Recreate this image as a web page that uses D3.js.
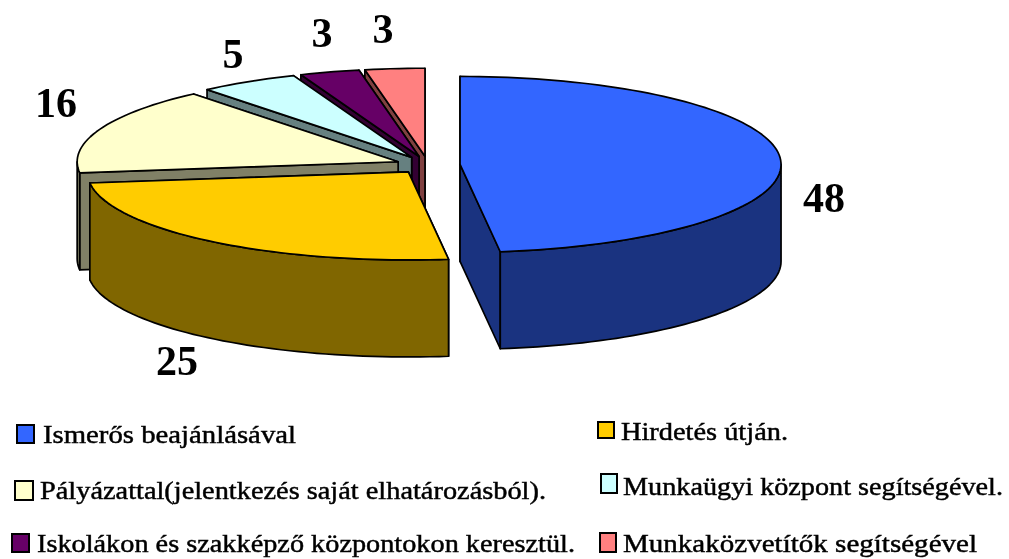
<!DOCTYPE html>
<html>
<head>
<meta charset="utf-8">
<script src="https://cdn.jsdelivr.net/npm/d3@7"></script>
<style>
	html, body { margin: 0; padding: 0; background: #ffffff; }
	svg { display: block; filter: blur(0.55px); }
	text { font-family: "Liberation Serif", serif; fill: #000000; }
</style>
</head>
<body>
<div id="chart"></div>
<script>
// chart data
var categories = [
	"Ismerős beajánlásával",
	"Hirdetés útján.",
	"Pályázattal(jelentkezés saját elhatározásból).",
	"Munkaügyi központ segítségével.",
	"Iskolákon és szakképző központokon keresztül.",
	"Munkaközvetítők segítségével"
];
var values = [48, 25, 16, 5, 3, 3];

// styles, one entry per slice
var topColors = ["#3366ff", "#ffcc00", "#ffffcc", "#ccffff", "#660066", "#ff8080"];
var wallColors = ["#1a3380", "#806600", "#808066", "#668080", "#330033", "#804040"];

// layout
var width = 1009, height = 559;
var cx = 428, cy = 165, rx = 321, ry = 88;
var depth = 97;
var explode = 0.1;
var labelSpots = [[824, 212], [177, 375], [56, 117], [233, 68], [322, 47], [383, 43]];
var legendSwatches = [[17, 425, 17, 18], [598, 422, 16, 16], [15, 481, 18, 19], [601, 474, 16, 19], [12, 534, 17, 18], [600, 533, 16, 19]];
var legendTexts = [[43, 443, 253], [621, 440, 167], [40, 499, 506], [623, 495, 380], [37, 552, 538], [623, 552, 354]];

var svg = d3.select("#chart").append("svg")
	.attr("width", width)
	.attr("height", height);

// unit circle -> screen ellipse
var x_scale = d3.scaleLinear().domain([-1, 1]).range([cx - rx, cx + rx]);
var y_scale = d3.scaleLinear().domain([-1, 1]).range([cy + ry, cy - ry]);

var slices = d3.pie().sort(null).value(function(d) { return d; })(values);

var line = d3.line()
	.x(function(d) { return d[0]; })
	.y(function(d) { return d[1]; });

// a point on the rim of a slice (or its apex if r = 0), moved out along the mid angle
function rimPoint(slice, angle, r, drop) {
	var mid = (slice.startAngle + slice.endAngle) / 2;
	return [
		x_scale(Math.sin(angle) * r + Math.sin(mid) * explode),
		y_scale(Math.cos(angle) * r + Math.cos(mid) * explode) + drop
	];
}

function arcAngles(a0, a1) {
	var steps = Math.max(2, Math.ceil((a1 - a0) / 0.03));
	return d3.range(steps + 1).map(function(i) { return a0 + (a1 - a0) * i / steps; });
}

function addShape(group, points, color) {
	group.append("path")
		.attr("d", line(points) + "Z")
		.attr("fill", color)
		.attr("stroke", "#000000")
		.attr("stroke-width", 1.7)
		.attr("stroke-linejoin", "round");
}

// draw back to front: last slice first
var pie_group = svg.append("g").attr("class", "pie");
slices.slice().reverse().forEach(function(s) {
	var g = pie_group.append("g");
	var wall = wallColors[s.index];

	// the cut face further back goes first, so it cannot cover the nearer one
	[s.startAngle, s.endAngle]
		.sort(function(a, b) { return Math.cos(b) - Math.cos(a); })
		.forEach(function(a) {
			addShape(g, [
				rimPoint(s, a, 0, 0),
				rimPoint(s, a, 1, 0),
				rimPoint(s, a, 1, depth),
				rimPoint(s, a, 0, depth)
			], wall);
		});

	// outer wall, only the part that faces the viewer
	var from = Math.max(s.startAngle, Math.PI / 2);
	var to = Math.min(s.endAngle, Math.PI * 1.5);
	if(from < to) {
		var angles = arcAngles(from, to);
		var upper = angles.map(function(a) { return rimPoint(s, a, 1, 0); });
		var lower = angles.slice().reverse().map(function(a) { return rimPoint(s, a, 1, depth); });
		addShape(g, upper.concat(lower), wall);
	}

	var top_face = [rimPoint(s, 0, 0, 0)].concat(
		arcAngles(s.startAngle, s.endAngle).map(function(a) { return rimPoint(s, a, 1, 0); })
	);
	addShape(g, top_face, topColors[s.index]);
});

// value labels
svg.append("g").selectAll("text")
	.data(values)
	.enter()
	.append("text")
	.attr("x", function(d, i) { return labelSpots[i][0]; })
	.attr("y", function(d, i) { return labelSpots[i][1]; })
	.attr("text-anchor", "middle")
	.attr("font-size", 42)
	.attr("font-weight", "bold")
	.text(function(d) { return d; });

// legend
var legend = svg.append("g").attr("class", "legend");
legend.selectAll("rect")
	.data(categories)
	.enter()
	.append("rect")
	.attr("x", function(d, i) { return legendSwatches[i][0]; })
	.attr("y", function(d, i) { return legendSwatches[i][1]; })
	.attr("width", function(d, i) { return legendSwatches[i][2]; })
	.attr("height", function(d, i) { return legendSwatches[i][3]; })
	.attr("fill", function(d, i) { return topColors[i]; })
	.attr("stroke", "#000000")
	.attr("stroke-width", 2);
legend.selectAll("text")
	.data(categories)
	.enter()
	.append("text")
	.attr("x", function(d, i) { return legendTexts[i][0]; })
	.attr("y", function(d, i) { return legendTexts[i][1]; })
	.attr("textLength", function(d, i) { return legendTexts[i][2]; })
	.attr("lengthAdjust", "spacingAndGlyphs")
	.attr("font-size", 25)
	.attr("stroke", "#000000")
	.attr("stroke-width", 0.45)
	.text(function(d) { return d; });
</script>
</body>
</html>
